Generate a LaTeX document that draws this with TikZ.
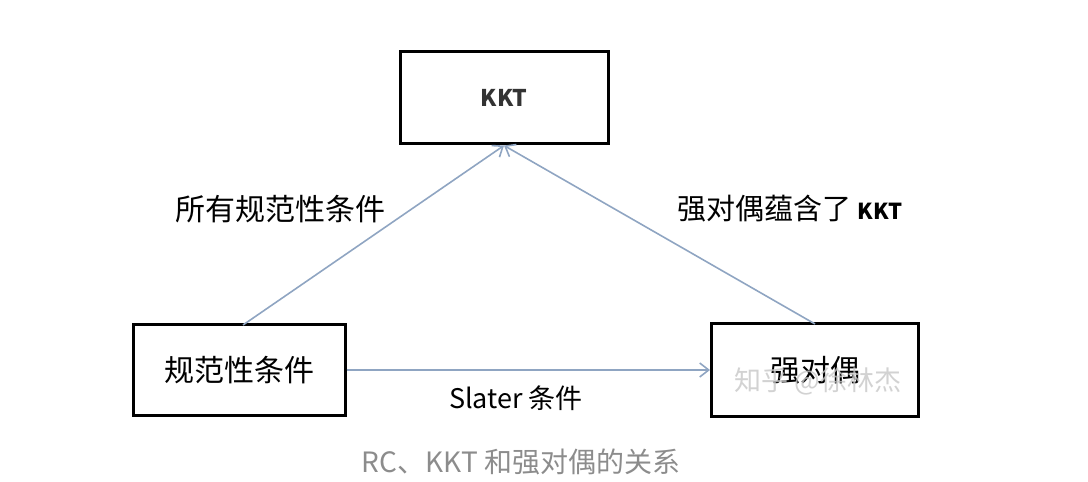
\documentclass[tikz,border=0pt]{standalone}
\usepackage{fontspec}
\newfontfamily\cjk{Noto Sans CJK SC}
\usetikzlibrary{arrows.meta}
\definecolor{arrowc}{HTML}{8FA5C2}
\definecolor{capc}{HTML}{8C8C8C}
\tikzset{
  box/.style={draw=black, line width=3bp, fill=white, minimum width=#1, inner sep=0pt},
  conn/.style={draw=arrowc, line width=1.6bp, -{Straight Barb[length=9bp,width=14bp,line width=1.6bp]}},
  lbl/.style={font=\cjk\fontsize{29bp}{32bp}\selectfont, inner sep=0pt},
}
\begin{document}
\begin{tikzpicture}[x=1bp,y=-1bp]
\useasboundingbox (0,0) rectangle (1088,482);
\node[box=208bp, minimum height=92bp, font=\cjk\bfseries\fontsize{23bp}{26bp}\selectfont, text=black!80] (kkt) at (504,98) {KKT};
\node[box=212bp, minimum height=90bp, font=\cjk\fontsize{30bp}{34bp}\selectfont] (rc) at (239,370) {规范性条件};
\node[box=207bp, minimum height=92bp, font=\cjk\fontsize{30bp}{34bp}\selectfont] (sd) at (815,370) {强对偶};
\node[font=\cjk\fontsize{27bp}{30bp}\selectfont, text=black!22, opacity=0.8] (wm) at (818,381) {知乎 @徐林杰};
\coordinate (rcTop) at (243,325);
\coordinate (sdTop) at (815,324);
\draw[conn] (rcTop) -- (kkt.south);
\draw[conn] (sdTop) -- (kkt.south);
\draw[conn] (rc.east) -- (sd.west);
\node[lbl, font=\cjk\fontsize{30bp}{34bp}\selectfont] (l1) at (280,209) {所有规范性条件};
\node[lbl] (l2) at (790,209) {强对偶蕴含了 {\bfseries\fontsize{22bp}{26bp}\selectfont KKT}};
\node[lbl, font=\cjk\fontsize{27bp}{30bp}\selectfont] (l3) at (516,398) {Slater 条件};
\node[font=\cjk\fontsize{28bp}{32bp}\selectfont, text=capc, inner sep=0pt] (cap) at (521,462) {RC、KKT 和强对偶的关系};
\end{tikzpicture}
\end{document}
